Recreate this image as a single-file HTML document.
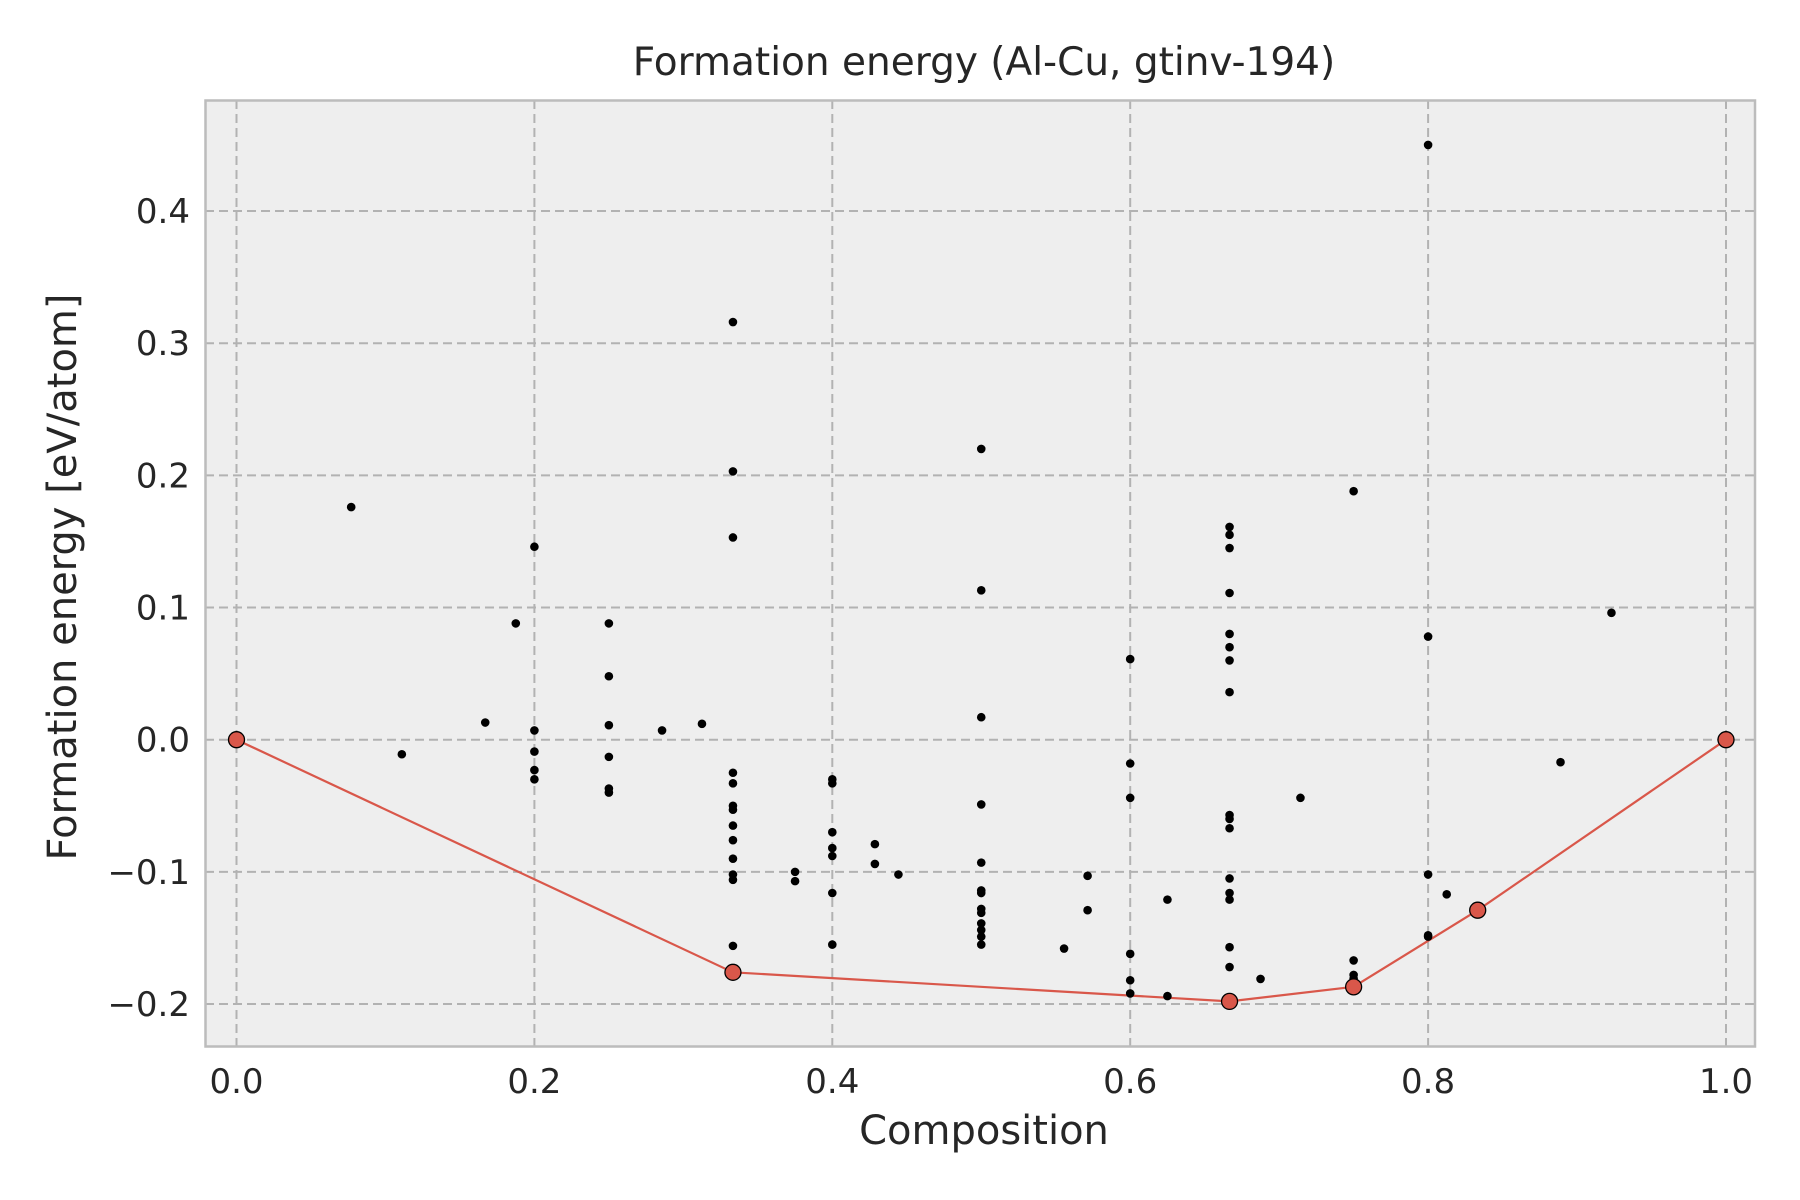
<!DOCTYPE html>
<html><head><meta charset="utf-8"><style>
html,body{margin:0;padding:0;background:#fff;}
svg{display:block;font-family:"DejaVu Sans","Liberation Sans",sans-serif;}
</style></head><body>
<svg id="chart" width="1800" height="1200" viewBox="0 0 1800 1200">
<rect x="205.5" y="100.5" width="1549.5" height="946" fill="#eeeeee"/>
<g id="grid"></g>
<g id="hull"></g>
<g id="pts"></g>
<g id="hullpts"></g>
<rect x="205.5" y="100.5" width="1549.5" height="946" fill="none" stroke="#bcbcbc" stroke-width="2.5"/>
<g id="ticks"></g>
<text x="984" y="75" text-anchor="middle" font-size="39" fill="#262626">Formation energy (Al-Cu, gtinv-194)</text>
<text x="984" y="1144" text-anchor="middle" font-size="40" fill="#262626">Composition</text>
<text x="76" y="577" text-anchor="middle" font-size="40" fill="#262626" transform="rotate(-90 76 577)">Formation energy [eV/atom]</text>
</svg>
<script>
const xTicks=[0,0.2,0.4,0.6,0.8,1.0];
const xTickLabels=["0.0","0.2","0.4","0.6","0.8","1.0"];
const yTicks=[-0.2,-0.1,0,0.1,0.2,0.3,0.4];
const yTickLabels=["\u22120.2","\u22120.1","0.0","0.1","0.2","0.3","0.4"];
const ptX=[0.077,0.111,0.167,0.1875,0.2,0.2,0.2,0.2,0.2,0.25,0.25,0.25,0.25,0.25,0.25,0.2857,0.3125,
0.3333,0.3333,0.3333,0.3333,0.3333,0.3333,0.3333,0.3333,0.3333,0.3333,0.3333,0.3333,0.3333,
0.375,0.375,0.4,0.4,0.4,0.4,0.4,0.4,0.4,0.4286,0.4286,0.4444,
0.5,0.5,0.5,0.5,0.5,0.5,0.5,0.5,0.5,0.5,0.5,0.5,0.5,0.5556,0.5714,0.5714,
0.6,0.6,0.6,0.6,0.6,0.6,0.625,0.625,
0.6667,0.6667,0.6667,0.6667,0.6667,0.6667,0.6667,0.6667,0.6667,0.6667,0.6667,0.6667,0.6667,0.6667,0.6667,0.6667,
0.6875,0.7143,0.75,0.75,0.75,0.75,0.8,0.8,0.8,0.8,0.8,0.8125,0.8889,0.9231];
const ptY=[0.176,-0.011,0.013,0.088,0.146,0.007,-0.009,-0.023,-0.030,0.088,0.048,0.011,-0.013,-0.037,-0.040,0.007,0.012,
0.316,0.203,0.153,-0.025,-0.033,-0.050,-0.053,-0.065,-0.076,-0.090,-0.102,-0.106,-0.156,
-0.100,-0.107,-0.030,-0.033,-0.070,-0.082,-0.088,-0.116,-0.155,-0.079,-0.094,-0.102,
0.220,0.113,0.017,-0.049,-0.093,-0.114,-0.116,-0.128,-0.131,-0.139,-0.144,-0.149,-0.155,-0.158,-0.103,-0.129,
0.061,-0.018,-0.044,-0.162,-0.182,-0.192,-0.121,-0.194,
0.161,0.155,0.145,0.111,0.080,0.070,0.060,0.036,-0.057,-0.060,-0.067,-0.105,-0.116,-0.121,-0.157,-0.172,
-0.181,-0.044,0.188,-0.167,-0.178,-0.181,0.450,0.078,-0.102,-0.148,-0.149,-0.117,-0.017,0.096];
const hullX=[0,0.3333,0.6667,0.75,0.8333,1.0];
const hullY=[0,-0.176,-0.198,-0.187,-0.129,0];
const NS="http://www.w3.org/2000/svg";
const X0=236.5,X1=1726,Y0=739.7,YS=1321.7;
function sx(v){return X0+(X1-X0)*v;}
function sy(v){return Y0-YS*v;}
function mk(tag,attrs,parent){const e=document.createElementNS(NS,tag);for(const k in attrs)e.setAttribute(k,attrs[k]);parent.appendChild(e);return e;}
const grid=document.getElementById('grid'),ticks=document.getElementById('ticks');
xTicks.forEach((v,i)=>{
 const l=mk('line',{x1:sx(v),x2:sx(v),y1:100,y2:1046,stroke:'#b2b2b2','stroke-width':2,'stroke-dasharray':'9,5'},grid);
 
 
 const t=mk('text',{x:sx(v),y:1093,'text-anchor':'middle','font-size':34,fill:'#262626'},ticks);
 t.textContent=xTickLabels[i];
 
 
});
yTicks.forEach((v,i)=>{
 const l=mk('line',{x1:205,x2:1755,y1:sy(v),y2:sy(v),stroke:'#b2b2b2','stroke-width':2,'stroke-dasharray':'9,5'},grid);
 
 
 const t=mk('text',{x:190,y:sy(v)+12,'text-anchor':'end','font-size':34,fill:'#262626'},ticks);
 t.textContent=yTickLabels[i];
 
 
});
const hl=mk('polyline',{points:hullX.map((x,i)=>sx(x)+','+sy(hullY[i])).join(' '),fill:'none',stroke:'#d9574a','stroke-width':2.2},document.getElementById('hull'));


const pg=document.getElementById('pts');
ptX.forEach((x,i)=>{
 const c=mk('circle',{cx:sx(x),cy:sy(ptY[i]),r:4.3,fill:'#000'},pg);
 
 
});
const hp=document.getElementById('hullpts');
hullX.forEach((x,i)=>{
 const c=mk('circle',{cx:sx(x),cy:sy(hullY[i]),r:8,fill:'#d9574a',stroke:'#000','stroke-width':1.3},hp);
 
 
});
</script>
</body></html>
